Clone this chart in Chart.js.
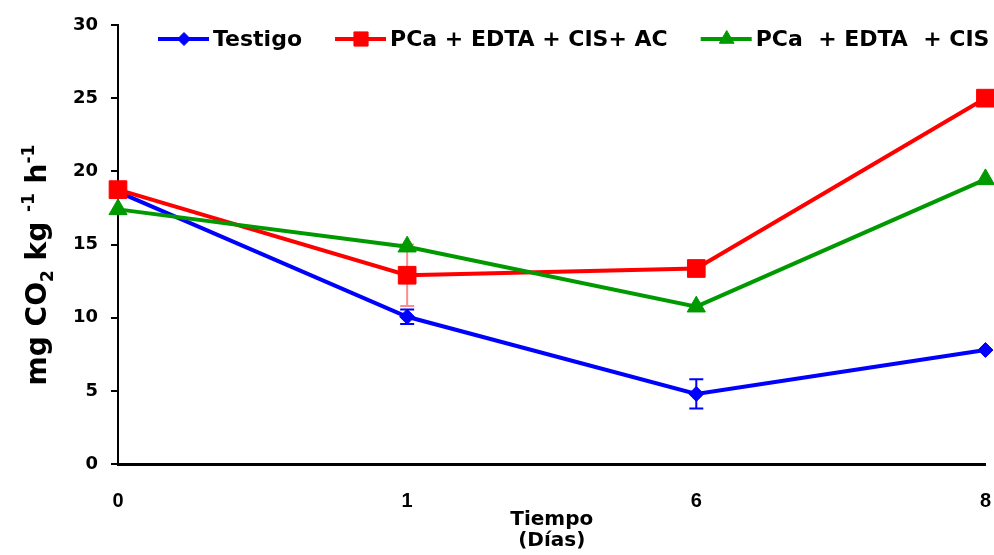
<!DOCTYPE html>
<html>
<head>
<meta charset="utf-8">
<script src="https://cdn.jsdelivr.net/npm/chart.js@4"></script>
<style>
  html, body { margin: 0; padding: 0; background: #fff; }
  canvas { display: block; }
</style>
</head>
<body>
<canvas id="respChart" width="994" height="555"></canvas>
<script>
// sampling days
const days = ['0', '1', '6', '8'];

// respiration rate, mg CO2 kg-1 h-1
const testigo = [18.6, 10.06, 4.79, 7.79];
const pcaEdtaCisAc = [18.75, 12.9, 13.36, 25.0];
const pcaEdtaCis = [17.4, 14.85, 10.75, 19.45];

// standard error per day
const testigoErr = [0, 0.5, 1.0, 0];
const pcaEdtaCisAcErr = [0, 2.1, 0, 0];
const pcaEdtaCisErr = [0, 0, 0, 0];

const yTicks = [0, 5, 10, 15, 20, 25, 30];

const FONT = "'DejaVu Sans', sans-serif";
Chart.defaults.font.family = FONT;
Chart.defaults.color = '#000';

const series = [
    { label: 'Testigo', data: testigo, err: testigoErr, color: '#0000ff', errColor: '#0000ff', style: 'rectRot', radius: 7.5, legendRadius: 6.5, order: 3 },
    { label: 'PCa + EDTA + CIS+ AC', data: pcaEdtaCisAc, err: pcaEdtaCisAcErr, color: '#ff0000', errColor: 'rgba(255,0,0,0.45)', style: 'rect', radius: 12.5, legendRadius: 10, order: 2 },
    { label: 'PCa  + EDTA  + CIS', data: pcaEdtaCis, err: pcaEdtaCisErr, color: '#009900', errColor: '#009900', style: 'triangle', radius: 10.5, legendRadius: 8.5, order: 1 }
];

// whiskers go under the markers
const errorBars = {
    id: 'errorBars',
    beforeDatasetsDraw(chart) {
        const { ctx, scales: { x, y } } = chart;
        ctx.save();
        ctx.lineWidth = 2;
        series.forEach(s => {
            ctx.strokeStyle = s.errColor;
            s.err.forEach((e, j) => {
                if (!e) return;
                const px = x.getPixelForValue(j);
                const hi = y.getPixelForValue(s.data[j] + e);
                const lo = y.getPixelForValue(s.data[j] - e);
                ctx.beginPath();
                ctx.moveTo(px, hi); ctx.lineTo(px, lo);
                ctx.moveTo(px - 7, hi); ctx.lineTo(px + 7, hi);
                ctx.moveTo(px - 7, lo); ctx.lineTo(px + 7, lo);
                ctx.stroke();
            });
        });
        ctx.restore();
    }
};

// line + marker legend across the top
const lineLegend = {
    id: 'lineLegend',
    afterDraw(chart) {
        const ctx = chart.ctx;
        const y = 39;
        let x = 158;
        ctx.save();
        ctx.font = 'bold 22px ' + FONT;
        ctx.textBaseline = 'middle';
        ctx.textAlign = 'left';
        series.forEach(s => {
            ctx.strokeStyle = s.color;
            ctx.fillStyle = s.color;
            ctx.lineWidth = 4;
            ctx.beginPath();
            ctx.moveTo(x, y); ctx.lineTo(x + 51, y);
            ctx.stroke();
            ctx.lineWidth = 1;
            Chart.helpers.drawPoint(ctx, { pointStyle: s.style, radius: s.legendRadius, borderWidth: 1, rotation: 0 }, x + 26, y);
            ctx.fillStyle = '#000';
            ctx.fillText(s.label, x + 55, y + 1);
            x += 55 + ctx.measureText(s.label).width + 33;
        });
        ctx.restore();
    }
};

// rotated y title with sub/superscripts
const yTitle = {
    id: 'yTitle',
    afterDraw(chart) {
        const ctx = chart.ctx;
        const parts = [
            { t: 'mg CO', k: 0 }, { t: '2', k: 1 }, { t: ' kg ', k: 0 },
            { t: '-1', k: -1 }, { t: ' h', k: 0 }, { t: '-1', k: -1 }
        ];
        const big = 'bold 28px ' + FONT;
        const small = 'bold 17px ' + FONT;
        ctx.save();
        let total = 0;
        parts.forEach(p => {
            ctx.font = p.k ? small : big;
            p.w = ctx.measureText(p.t).width;
            total += p.w;
        });
        ctx.translate(36, 265);
        ctx.rotate(-Math.PI / 2);
        ctx.fillStyle = '#000';
        ctx.textBaseline = 'alphabetic';
        let x = -total / 2;
        parts.forEach(p => {
            ctx.font = p.k ? small : big;
            const dy = p.k === 1 ? 7 : p.k === -1 ? -12 : 0;
            ctx.fillText(p.t, x, 10 + dy);
            x += p.w;
        });
        ctx.restore();
    }
};

new Chart(document.getElementById('respChart'), {
    type: 'line',
    data: {
        labels: days,
        datasets: series.map(s => ({
            label: s.label,
            data: s.data,
            borderColor: s.color,
            backgroundColor: s.color,
            borderWidth: 4,
            pointStyle: s.style,
            pointRadius: s.radius,
            pointBorderWidth: 1,
            pointBackgroundColor: s.color,
            pointBorderColor: s.color,
            tension: 0,
            clip: false,
            order: s.order
        }))
    },
    options: {
        responsive: false,
        animation: false,
        layout: { autoPadding: false, padding: { top: 25, right: 8, left: 0, bottom: 0 } },
        plugins: { legend: { display: false }, tooltip: { enabled: false } },
        scales: {
            x: {
                offset: false,
                // tick marks are hidden; tickLength only pushes the labels down
                grid: { display: false, drawTicks: true, tickLength: 22 },
                border: { display: true, color: '#000', width: 3 },
                ticks: { font: { family: "'Liberation Sans', Arial, sans-serif", size: 20, weight: 'bold' }, padding: 3, color: '#000' },
                title: {
                    display: true,
                    text: ['Tiempo', '(Días)'],
                    font: { size: 20, weight: 'bold', lineHeight: 1.05 },
                    padding: { top: 0, bottom: 3.5 },
                    color: '#000'
                },
                afterFit(scale) { scale.height = 91; }
            },
            y: {
                min: 0,
                max: 30,
                afterBuildTicks(scale) { scale.ticks = yTicks.map(v => ({ value: v })); },
                grid: { display: true, drawOnChartArea: false, drawTicks: true, tickLength: 7, color: '#000', lineWidth: 2 },
                border: { display: true, color: '#000', width: 2 },
                ticks: { font: { size: 18, weight: 'bold' }, padding: 13, color: '#000' },
                afterFit(scale) { scale.width = 118; }
            }
        }
    },
    plugins: [errorBars, lineLegend, yTitle]
});
</script>
</body>
</html>
